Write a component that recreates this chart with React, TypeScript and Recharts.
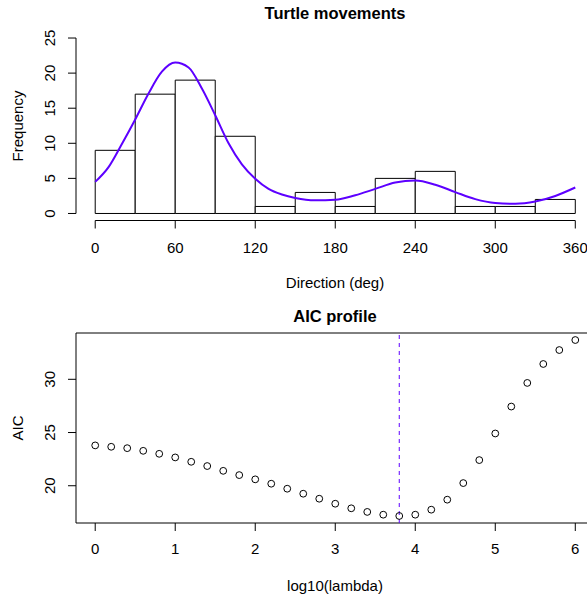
import React from 'react';
import {
  ComposedChart, Bar, Line, Scatter, XAxis, YAxis, ReferenceLine, ReferenceArea,
} from 'recharts';

// histogram of turtle directions (30 degree bins)
const binMids = [15, 45, 75, 105, 135, 165, 195, 225, 255, 285, 315, 345];
const binCounts = [9, 17, 19, 11, 1, 3, 1, 5, 6, 1, 1, 2];

// fitted density, scaled to frequency
const curveDeg = [0, 10, 20, 30, 40, 50, 60, 70, 80, 90, 100, 110, 120, 130, 140, 150, 165, 180, 195, 210, 225, 240, 255, 270, 285, 300, 315, 330, 345, 360];
const curveFreq = [4.5, 6.6, 9.9, 13.4, 17.1, 20.2, 21.5, 20.8, 17.8, 14.0, 10.0, 7.0, 4.95, 3.5, 2.7, 2.2, 1.87, 1.95, 2.6, 3.5, 4.4, 4.7, 4.1, 3.05, 2.05, 1.5, 1.38, 1.7, 2.5, 3.7];

const dirTicks = [0, 60, 120, 180, 240, 300, 360];
const freqTicks = [0, 5, 10, 15, 20, 25];

// AIC profile
const logLambda = [0, 0.2, 0.4, 0.6, 0.8, 1, 1.2, 1.4, 1.6, 1.8, 2, 2.2, 2.4, 2.6, 2.8, 3, 3.2, 3.4, 3.6, 3.8, 4, 4.2, 4.4, 4.6, 4.8, 5, 5.2, 5.4, 5.6, 5.8, 6];
const aicValues = [23.79, 23.66, 23.53, 23.28, 23.0, 22.66, 22.25, 21.85, 21.4, 21.0, 20.6, 20.19, 19.72, 19.25, 18.78, 18.31, 17.88, 17.54, 17.28, 17.16, 17.28, 17.75, 18.69, 20.25, 22.41, 24.91, 27.44, 29.66, 31.44, 32.75, 33.69];
const bestLogLambda = 3.8;
const lambdaTicks = [0, 1, 2, 3, 4, 5, 6];
const aicTicks = [20, 25, 30];

const FONT = '"Liberation Sans", Arial, Helvetica, sans-serif';
const CURVE = '#5d00ff';
const FS = 15;

// R style 4% axis expansion
const pad = (lo: number, hi: number): [number, number] => {
  const d = (hi - lo) * 0.04;
  return [lo - d, hi + d];
};

const histData = binMids.map((m, i) => ({ mid: m, count: binCounts[i] }));
const curveData = curveDeg.map((d, i) => ({ deg: d, freq: curveFreq[i] }));
const aicData = logLambda.map((l, i) => ({ l, aic: aicValues[i] }));

const dirDomain = pad(0, 360);
const freqDomain = pad(0, 25);
const lamDomain = pad(Math.min(...logLambda), Math.max(...logLambda));
const aicDomain = pad(Math.min(...aicValues), Math.max(...aicValues));

const RotTick = (props: any) => {
  const { x, y, payload } = props;
  return (
    <text x={x} y={y} transform={`rotate(-90, ${x}, ${y})`} textAnchor="middle"
      fontFamily={FONT} fontSize={FS} fill="#000">
      {payload.value}
    </text>
  );
};

const tickFont = { fontFamily: FONT, fontSize: FS, fill: '#000' };

const Txt = ({ x, y, children, bold, rotate, size }: any) => (
  <div style={{
    position: 'absolute', left: x, top: y, whiteSpace: 'nowrap',
    transform: `translate(-50%, -50%)${rotate ? ' rotate(-90deg)' : ''}`,
    fontFamily: FONT, fontSize: size || FS, fontWeight: bold ? 'bold' : 'normal',
    lineHeight: 1, color: '#000',
  }}>{children}</div>
);

export default function App() {
  return (
    <div style={{ position: 'absolute', left: 0, top: 0, width: 587, height: 596, overflow: 'hidden', background: '#fff' }}>
      <div style={{ position: 'absolute', left: 0, top: 0 }}>
        <ComposedChart width={620} height={300} data={histData}
          margin={{ top: 31, right: 25.5, bottom: 0, left: 0 }}
          barCategoryGap={0} barGap={0}>
          <XAxis dataKey="mid" type="number" domain={dirDomain} allowDataOverflow
            ticks={dirTicks} axisLine={false} tickLine={{ stroke: '#000' }}
            tickSize={8} tickMargin={14} height={79.5} tick={tickFont} interval={0} />
          <XAxis xAxisId="curve" dataKey="deg" type="number" domain={dirDomain} allowDataOverflow hide />
          <YAxis type="number" domain={freqDomain} allowDataOverflow ticks={freqTicks}
            axisLine={false} tickLine={{ stroke: '#000' }} tickSize={8} tickMargin={12.7}
            width={76} tick={<RotTick />} interval={0} />
          <Bar dataKey="count" fill="#fff" stroke="#000" strokeWidth={1} isAnimationActive={false} />
          <Line xAxisId="curve" data={curveData} dataKey="freq" type="monotone" stroke={CURVE}
            strokeWidth={2} dot={false} isAnimationActive={false} />
          <ReferenceLine segment={[{ x: 0, y: freqDomain[0] }, { x: 360, y: freqDomain[0] }]}
            stroke="#000" ifOverflow="visible" />
          <ReferenceLine segment={[{ x: dirDomain[0], y: 0 }, { x: dirDomain[0], y: 25 }]}
            stroke="#000" ifOverflow="visible" />
        </ComposedChart>
      </div>
      <div style={{ position: 'absolute', left: 0, top: 300 }}>
        <ComposedChart width={620} height={296} data={aicData}
          margin={{ top: 33, right: 25.5, bottom: 0, left: 0 }}>
          <XAxis dataKey="l" type="number" domain={lamDomain} allowDataOverflow
            ticks={lambdaTicks} axisLine={false} tickLine={{ stroke: '#000' }}
            tickSize={8} tickMargin={12.6} height={73} tick={tickFont} interval={0} />
          <YAxis type="number" domain={aicDomain} allowDataOverflow ticks={aicTicks}
            axisLine={false} tickLine={{ stroke: '#000' }} tickSize={8} tickMargin={12.7}
            width={76} tick={<RotTick />} interval={0} />
          <ReferenceArea x1={lamDomain[0]} x2={lamDomain[1]} y1={aicDomain[0]} y2={aicDomain[1]}
            fill="none" stroke="#000" fillOpacity={0} ifOverflow="visible" />
          <ReferenceLine x={bestLogLambda} stroke={CURVE} strokeDasharray="4 4" />
          <Scatter dataKey="aic" isAnimationActive={false}
            shape={(p: any) => <circle cx={p.cx} cy={p.cy} r={3.4} fill="none" stroke="#000" strokeWidth={1} />} />
        </ComposedChart>
      </div>
      <Txt x={335} y={13} bold size={16.5}>Turtle movements</Txt>
      <Txt x={335} y={282}>Direction (deg)</Txt>
      <Txt x={17} y={126} rotate>Frequency</Txt>
      <Txt x={335} y={316} bold size={16.5}>AIC profile</Txt>
      <Txt x={335} y={585}>log10(lambda)</Txt>
      <Txt x={17} y={428} rotate>AIC</Txt>
    </div>
  );
}
